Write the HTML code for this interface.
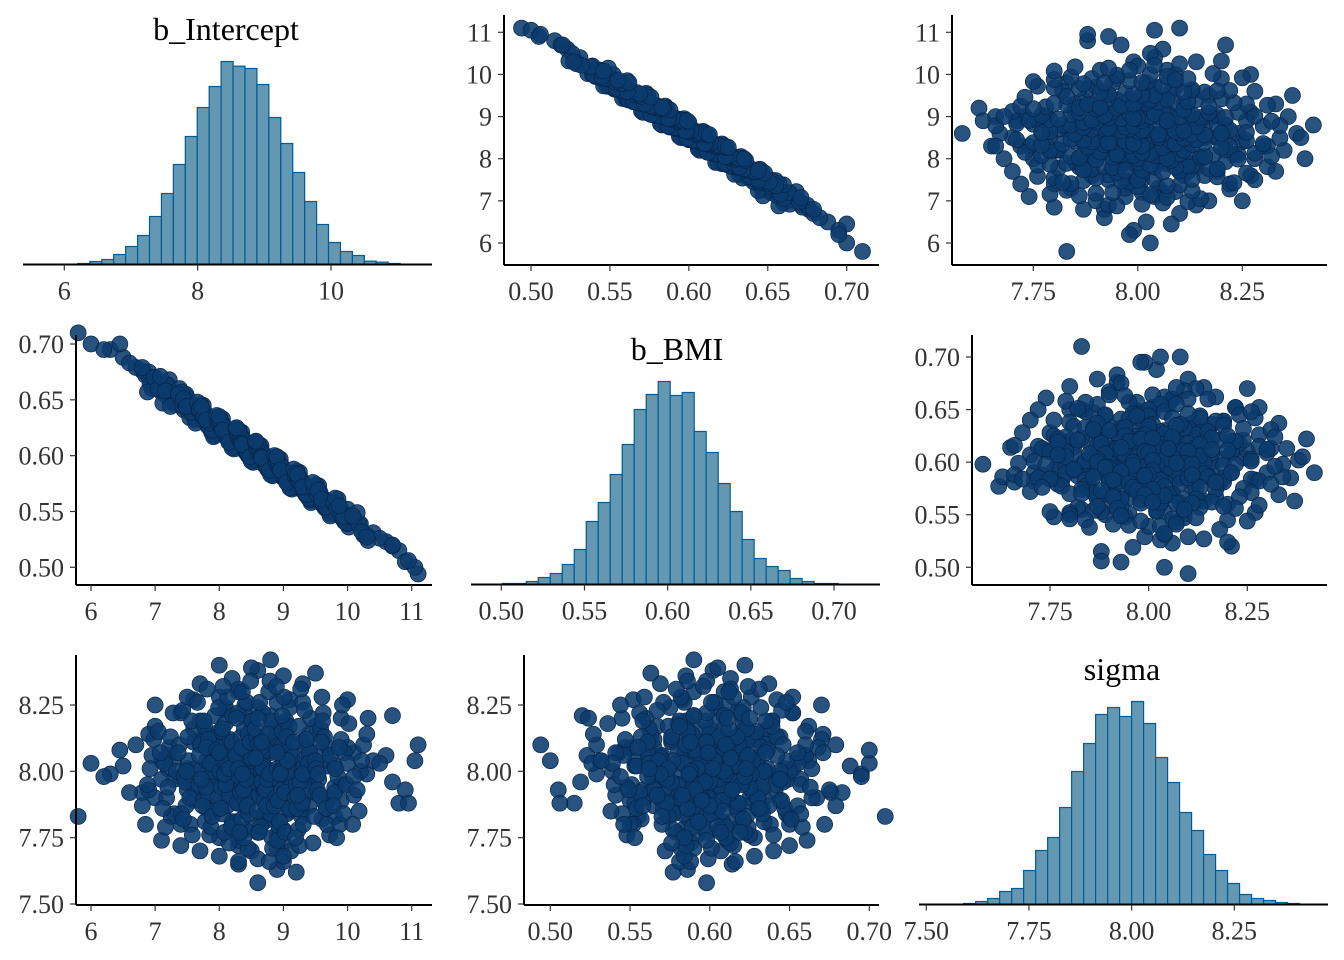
<!DOCTYPE html>
<html><head><meta charset="utf-8"><style>
html,body{margin:0;padding:0;background:#fff;}
svg{display:block;font-family:"Liberation Serif",serif;}
.tl{font-size:26px;fill:#333;}
.tt{font-size:32px;fill:#000;}
</style></head><body>
<svg id="c" width="1344" height="960" viewBox="0 0 1344 960"></svg>
<script>
// histogram counts (relative heights)
const histIntercept=[3,9,15,30,54,87,144,213,300,384,471,534,609,595,588,540,441,363,276,189,120,66,39,27,10,7,3];
const histBMI=[3,3,9,21,33,60,105,189,246,330,420,525,570,609,567,576,459,396,303,219,135,78,54,42,18,9,3,3];
const histSigma=[3,9,18,39,48,102,162,201,291,399,483,570,591,564,609,543,441,366,276,222,150,102,63,30,18,12,6,3];
const binStartIntercept=6.204, binWidthIntercept=0.179;
const binStartBMI=0.5006, binWidthBMI=0.00721;
const binStartSigma=7.591, binWidthSigma=0.02921;
const ticksIntercept=[6,7,8,9,10,11];
const ticksInterceptHist=[6,8,10];
const ticksBMI=[0.50,0.55,0.60,0.65,0.70];
const ticksSigma3=[7.75,8.00,8.25];
const ticksSigma4=[7.50,7.75,8.00,8.25];
const ticksInterceptY=[6,7,8,9,10,11];
// posterior draws
const drawIntercept=[8.6,7.9,9.3,8.2,9.0,8.8,7.5,9.7,8.4,8.1, 8.9,8.3,7.2,9.9,8.5,8.7,7.7,9.1,10.3,6.8, 8.0,9.5,8.6,7.4,8.8,9.2,8.3,10.6,7.9,8.5, 9.6,8.1,8.7,7.6,9.0,8.4,6.5,9.4,8.9,8.2, 7.8,8.6,9.8,8.3,7.1,9.3,8.8,8.0,10.1,8.5, 9.0,7.3,8.4,8.9,9.7,8.2,7.7,8.6,9.2,10.8, 8.7,8.0,6.9,9.4,8.3,8.9,7.5,9.9,8.5,8.1, 9.1,7.9,8.8,10.4,8.6,7.2,9.5,8.2,8.4,9.8, 6.3,8.7,9.0,7.6,8.5,9.3,8.0,10.0,7.4,8.9, 8.3,9.6,8.1,8.8,7.0,9.2,8.6,10.9,7.8,8.4, 9.0,8.2,9.7,7.5,8.7,8.0,9.4,6.7,8.9,10.2, 8.5,7.7,9.1,8.3,9.9,8.6,7.3,8.8,9.5,8.1, 10.5,8.4,7.9,9.2,8.7,6.6,9.0,8.2,8.9,7.6, 9.3,8.0,8.6,9.8,7.4,8.5,9.6,8.3,10.7,8.8, 7.1,9.1,8.7,8.1,9.4,7.8,8.9,10.1,8.4,9.0, 11.1,11.05,6.0,5.8,6.45,10.95,7.0,10.0,6.2,10.7, 8.6,9.2,8.0,8.8,8.3,9.5,7.7,8.9,8.5,9.0, 8.2,8.7,9.3,7.9,8.5,8.0,9.1,8.6,8.4,8.8,
6.85,6.95,6.9,7.0,6.8,6.92,6.98,6.88,
7.1,7.25,7.18,7.3,7.15,7.22,7.05,7.28,7.12,7.2,7.33,7.08,7.24,7.16,
7.4,7.55,7.48,7.62,7.45,7.52,7.38,7.6,7.43,7.5,7.58,7.41,7.54,7.47,7.63,7.36,7.51,7.57,7.44,7.49,
7.7,7.85,7.78,7.92,7.75,7.82,7.68,7.9,7.73,7.8,7.88,7.71,7.84,7.77,7.93,7.66,7.81,7.87,7.74,7.79,7.91,7.69,7.83,7.76,7.89,7.72,7.86,7.8,
8.0,8.15,8.08,8.22,8.05,8.12,7.98,8.2,8.03,8.1,8.18,8.01,8.14,8.07,8.23,7.96,8.11,8.17,8.04,8.09,8.21,7.99,8.13,8.06,8.19,8.02,8.16,8.1,8.08,8.12,8.0,8.2,8.05,8.15,
8.3,8.45,8.38,8.52,8.35,8.42,8.28,8.5,8.33,8.4,8.48,8.31,8.44,8.37,8.53,8.26,8.41,8.47,8.34,8.39,8.51,8.29,8.43,8.36,8.49,8.32,8.46,8.4,8.38,8.42,8.3,8.5,8.35,8.45,8.27,8.44,8.36,8.48,
8.6,8.75,8.68,8.82,8.65,8.72,8.58,8.8,8.63,8.7,8.78,8.61,8.74,8.67,8.83,8.56,8.71,8.77,8.64,8.69,8.81,8.59,8.73,8.66,8.79,8.62,8.76,8.7,8.68,8.72,8.6,8.8,8.65,8.75,8.57,8.74,8.66,8.78,
8.9,9.05,8.98,9.12,8.95,9.02,8.88,9.1,8.93,9.0,9.08,8.91,9.04,8.97,9.13,8.86,9.01,9.07,8.94,8.99,9.11,8.89,9.03,8.96,9.09,8.92,9.06,9.0,8.98,9.02,8.9,9.1,8.95,9.05,
9.2,9.35,9.28,9.42,9.25,9.32,9.18,9.4,9.23,9.3,9.38,9.21,9.34,9.27,9.43,9.16,9.31,9.37,9.24,9.29,9.41,9.19,9.33,9.26,9.39,9.22,9.36,9.3,
9.5,9.65,9.58,9.72,9.55,9.62,9.48,9.7,9.53,9.6,9.68,9.51,9.64,9.57,9.73,9.46,9.61,9.67,9.54,9.59,
9.8,9.95,9.88,10.02,9.85,9.92,9.78,10.0,9.83,9.9,9.98,9.81,9.94,9.87,
10.1,10.25,10.18,10.32,10.15,10.22,10.08,10.3];
const drawBMI=[.603,.624,.575,.611,.588,.590,.649,.553,.606,.625, .585,.617,.652,.551,.600,.598,.633,.583,.529,.676, .628,.560,.596,.652,.595,.571,.609,.523,.631,.607, .563,.617,.592,.644,.580,.611,.688,.565,.591,.613, .635,.604,.548,.615,.657,.576,.589,.620,.543,.601, .587,.648,.604,.584,.559,.620,.639,.597,.579,.515, .600,.621,.671,.571,.608,.592,.641,.545,.608,.624, .577,.625,.596,.531,.599,.660,.567,.612,.611,.555, .695,.593,.588,.637,.600,.569,.627,.547,.645,.586, .610,.557,.618,.590,.667,.573,.602,.505,.629,.606, .582,.618,.553,.647,.594,.626,.566,.679,.590,.539, .605,.634,.584,.613,.550,.598,.655,.593,.562,.619, .526,.609,.630,.574,.597,.683,.585,.614,.589,.642, .570,.623,.601,.554,.650,.603,.561,.611,.519,.594, .662,.579,.595,.621,.569,.633,.587,.541,.607,.583, .494,.500,.700,.710,.700,.506,.670,.552,.695,.520, .598,.577,.622,.590,.614,.563,.637,.586,.605,.581, .617,.598,.571,.627,.603,.625,.580,.602,.608,.591,
.672,.660,.675,.662,.679,.664,.670,.657,
.661,.650,.664,.646,.655,.668,.660,.652,.647,.663,.650,.671,.644,.658,
.650,.638,.655,.632,.641,.648,.660,.636,.645,.652,.640,.657,.634,.646,.629,.655,.642,.639,.651,.644,
.640,.625,.634,.618,.645,.627,.641,.622,.636,.630,.621,.646,.628,.639,.620,.648,.631,.624,.637,.633,.617,.642,.626,.635,.623,.644,.629,.632,
.628,.613,.622,.608,.633,.616,.630,.611,.625,.619,.612,.634,.617,.627,.606,.636,.618,.614,.629,.621,.609,.632,.615,.624,.610,.631,.613,.620,.626,.617,.635,.607,.623,.612,
.616,.601,.610,.596,.621,.604,.618,.599,.613,.607,.600,.622,.605,.615,.594,.624,.606,.602,.617,.609,.597,.620,.603,.612,.598,.619,.601,.608,.614,.605,.623,.595,.611,.600,.625,.603,.610,.599,
.604,.589,.598,.584,.609,.592,.606,.587,.601,.595,.588,.610,.593,.603,.582,.612,.594,.590,.605,.597,.585,.608,.591,.600,.586,.607,.589,.596,.602,.593,.611,.583,.599,.588,.613,.591,.598,.587,
.592,.577,.586,.572,.597,.580,.594,.575,.589,.583,.576,.598,.581,.591,.570,.600,.582,.578,.593,.585,.573,.596,.579,.588,.574,.595,.577,.584,.590,.581,.599,.571,.587,.576,
.580,.565,.574,.560,.585,.568,.582,.563,.577,.571,.564,.586,.569,.579,.558,.588,.570,.566,.581,.573,.561,.584,.567,.576,.562,.583,.565,.572,
.568,.553,.562,.548,.573,.556,.570,.551,.565,.559,.552,.574,.557,.567,.546,.576,.558,.554,.569,.561,
.556,.541,.550,.536,.561,.544,.558,.539,.553,.547,.540,.562,.545,.555,
.544,.529,.538,.524,.549,.532,.546,.527];
const drawSigma=[7.99,8.12,7.85,8.05,7.93,8.21,7.97,8.02,7.78,7.90, 8.08,7.88,8.01,7.95,8.16,7.83,8.10,8.27,7.99,7.92, 7.75,8.03,7.93,8.22,8.00,7.91,8.30,8.06,7.96,7.70, 8.13,8.06,7.81,7.89,8.18,8.04,8.02,7.87,7.98,8.35, 8.00,8.24,7.94,7.72,7.97,8.11,7.86,8.15,8.07,7.96, 8.05,7.84,7.99,8.26,7.90,7.80,8.19,7.95,8.03,7.88, 7.92,8.09,8.14,7.98,8.01,7.76,7.93,8.20,8.12,8.02, 7.85,7.97,8.08,8.04,7.67,8.06,8.17,7.94,8.25,7.83, 7.99,8.02,7.73,8.11,7.91,8.33,7.88,8.09,7.98,8.13, 8.07,7.82,8.23,7.96,7.90,8.00,8.38,7.93,8.14,7.87, 8.18,7.79,8.04,8.01,7.84,8.28,7.95,8.10,7.71,8.00, 7.94,8.12,8.07,8.31,7.89,7.77,8.05,8.16,7.92,7.98, 8.03,8.21,7.86,7.97,8.09,7.92,8.36,7.81,8.00,8.27, 7.89,7.95,8.13,8.02,7.80,8.19,8.08,7.74,7.96,8.11, 8.04,7.90,7.99,8.24,8.06,7.86,8.15,7.91,8.03,7.78, 8.10,8.04,8.03,7.83,8.08,7.88,8.25,8.27,7.98,8.21, 7.58,7.62,8.40,8.42,7.65,8.37,8.33,7.63,8.39,7.66, 7.97,7.93,8.01,8.05,8.10,7.99,7.95,8.03,7.90,8.07,
7.80,8.06,7.93,8.17,7.87,8.01,8.12,7.95,
7.74,7.83,7.90,7.97,8.03,8.09,8.15,8.22,7.86,7.94,8.00,8.07,8.13,7.79,
7.72,7.80,7.87,7.93,7.98,8.04,8.10,8.16,8.23,8.28,7.76,7.84,7.90,7.96,8.01,8.07,8.13,8.19,7.82,8.00,
7.70,7.76,7.81,7.85,7.89,7.92,7.95,7.98,8.01,8.04,8.07,8.10,8.13,8.17,8.21,8.26,8.31,7.79,7.87,7.94,8.00,8.06,8.12,8.19,7.83,7.97,8.03,8.09,
7.68,7.73,7.77,7.81,7.84,7.87,7.90,7.92,7.94,7.96,7.98,8.00,8.02,8.04,8.06,8.08,8.10,8.12,8.15,8.18,8.21,8.24,8.28,8.32,7.79,7.86,7.91,7.95,7.99,8.03,8.07,8.11,8.16,8.01,
7.66,7.71,7.75,7.79,7.82,7.85,7.88,7.90,7.92,7.94,7.96,7.98,8.00,8.02,8.04,8.06,8.08,8.10,8.13,8.16,8.19,8.22,8.26,8.30,8.34,7.77,7.84,7.89,7.93,7.97,8.01,8.05,8.09,8.14,8.20,7.87,7.99,8.11,
8.06,7.90,8.22,7.75,8.00,7.94,8.13,7.82,8.26,7.98,7.66,8.10,7.88,8.04,7.71,8.16,7.92,8.30,7.79,8.02,8.19,7.85,8.08,7.96,8.34,7.77,8.14,7.89,8.01,7.93,8.20,7.84,8.09,7.97,8.05,7.87,8.11,7.99,
8.01,7.84,8.15,7.70,7.96,8.08,7.90,8.24,7.79,8.03,8.12,7.74,8.19,7.93,8.06,7.87,8.28,7.98,7.81,8.10,7.94,8.32,7.77,8.00,8.17,7.89,8.04,7.68,8.21,7.92,8.07,7.86,7.99,8.13,
7.95,8.09,7.83,8.20,7.72,8.02,7.90,8.14,7.78,8.26,7.98,7.86,8.05,8.31,7.93,8.11,7.80,8.00,8.17,7.88,8.07,7.75,8.23,7.96,8.03,7.91,8.12,7.99,
8.04,7.88,8.16,7.76,7.97,8.22,7.83,8.09,7.93,8.28,7.80,8.01,8.13,7.91,8.06,7.73,8.19,7.86,7.99,8.11,
7.92,8.07,7.80,8.18,7.98,8.25,7.87,8.03,7.75,8.12,7.95,8.01,7.84,8.09,
7.98,8.10,7.85,8.20,7.93,8.04,7.80,8.14];

const NS='http://www.w3.org/2000/svg';
const svg=document.getElementById('c');
function mk(tag,attrs,parent){const e=document.createElementNS(NS,tag);for(const k in attrs)e.setAttribute(k,attrs[k]);(parent||svg).appendChild(e);return e;}
function lin(d0,r0,d1,r1){return v=>r0+(v-d0)*(r1-r0)/(d1-d0);}
function fmt(v,dec){return v.toFixed(dec);}

function xAxis(g,sx,y,x0,x1,ticks,dec){
  const l=mk('line',{x1:x0,y1:y,x2:x1,y2:y,stroke:'#000','stroke-width':2},g);
  
  
  ticks.forEach(t=>{
    const tk=mk('line',{x1:sx(t),y1:y,x2:sx(t),y2:y+6,stroke:'#333','stroke-width':1.2},g);
    
    
    const tx=mk('text',{x:sx(t),y:y+35,'text-anchor':'middle',class:'tl'},g);
    tx.textContent=fmt(t,dec);
    
    
  });
}
function yAxis(g,sy,x,y0,y1,ticks,dec){
  const l=mk('line',{x1:x,y1:y0,x2:x,y2:y1,stroke:'#000','stroke-width':2},g);
  
  
  ticks.forEach(t=>{
    const tk=mk('line',{x1:x-6,y1:sy(t),x2:x,y2:sy(t),stroke:'#333','stroke-width':1.2},g);
    
    
    const tx=mk('text',{x:x-12,y:sy(t)+9,'text-anchor':'end',class:'tl'},g);
    tx.textContent=fmt(t,dec);
    
    
  });
}
function hist(name,counts,start,width,sx,base,title,tx,ty,x0,x1,ticks,dec){
  const g=mk('g',{});
  
  
  counts.forEach((c,i)=>{
    const a=sx(start+i*width),b=sx(start+(i+1)*width),h=c/3;
    const r=mk('rect',{x:a,y:base-h,width:b-a,height:h,fill:'#6497b1',stroke:'#005b96','stroke-width':1.2},g);
    
    
  });
  xAxis(g,sx,base,x0,x1,ticks,dec);
  const t=mk('text',{x:tx,y:ty,'text-anchor':'middle',class:'tt'},g);
  t.textContent=title;
  
  
}
function scatter(name,xs,ys,sx,sy,ax,ay,top,right,xt,xd,yt,yd){
  const g=mk('g',{});
  
  
  xs.forEach((v,i)=>{
    const c=mk('circle',{cx:sx(v),cy:sy(ys[i]),r:8,fill:'#0b3b6d','fill-opacity':0.88,stroke:'#05254a','stroke-width':0.7},g);
    
    
  });
  xAxis(g,sx,ay,ax,right,xt,xd);
  yAxis(g,sy,ax,top,ay,yt,yd);
}
// Row 1
hist('hist-b-intercept',histIntercept,binStartIntercept,binWidthIntercept,lin(6,64.3,10,331),264.5,'b_Intercept',226,40,23,432,ticksInterceptHist,0);
scatter('scatter-bmi-vs-intercept',drawBMI,drawIntercept,lin(0.5,531,0.7,846.7),lin(6,243,11,32.3),504,265,15,879,ticksBMI,2,ticksInterceptY,0);
scatter('scatter-sigma-vs-intercept',drawSigma,drawIntercept,lin(7.75,1033.3,8.25,1242.3),lin(6,243,11,32.3),952,265,15,1327,ticksSigma3,2,ticksInterceptY,0);
// Row 2
scatter('scatter-intercept-vs-bmi',drawIntercept,drawBMI,lin(6,91,11,411.7),lin(0.5,567.3,0.7,344),76,585,335,432,ticksIntercept,0,ticksBMI,2);
hist('hist-b-bmi',histBMI,binStartBMI,binWidthBMI,lin(0.5,501.3,0.7,834),584.5,'b_BMI',677,360,471,880,ticksBMI,2);
scatter('scatter-sigma-vs-bmi',drawSigma,drawBMI,lin(7.75,1050,8.25,1247.3),lin(0.5,567.3,0.7,357),972,585,335,1327,ticksSigma3,2,ticksBMI,2);
// Row 3
scatter('scatter-intercept-vs-sigma',drawIntercept,drawSigma,lin(6,91,11,411.7),lin(7.5,904,8.25,705),76,905,655,432,ticksIntercept,0,ticksSigma4,2);
scatter('scatter-bmi-vs-sigma',drawBMI,drawSigma,lin(0.5,550.3,0.7,869.3),lin(7.5,904,8.25,705),524,905,655,879,ticksBMI,2,ticksSigma4,2);
hist('hist-sigma',histSigma,binStartSigma,binWidthSigma,lin(7.5,926.3,8.25,1234.3),904.5,'sigma',1122,680,919,1328,ticksSigma4,2);
</script>
</body></html>
